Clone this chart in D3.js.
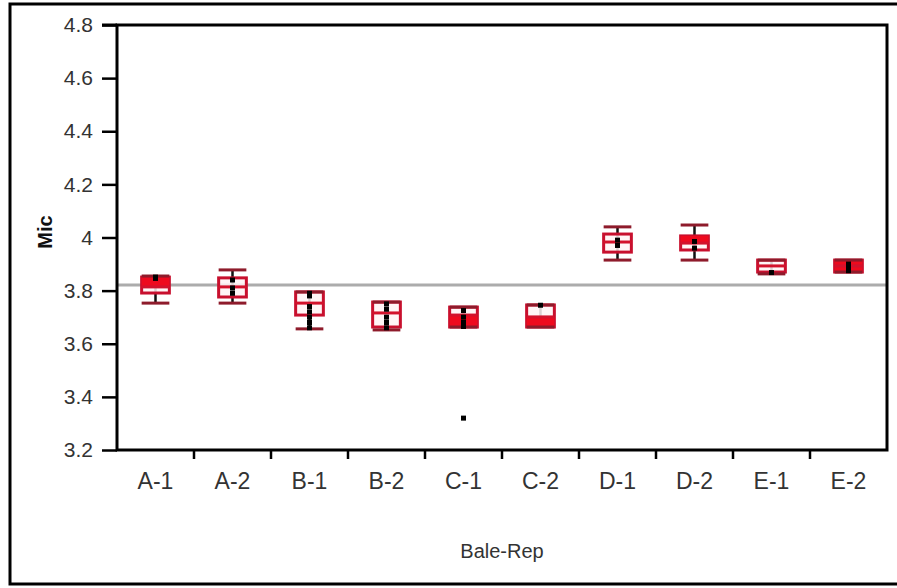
<!DOCTYPE html>
<html>
<head>
<meta charset="utf-8">
<script src="https://cdn.jsdelivr.net/npm/d3@7"></script>
<style>
  body { margin: 0; background: #fff; }
  svg { display: block; font-family: "Liberation Sans", Arial, sans-serif; }
  .tick-label { fill: #333; }
</style>
</head>
<body>
<svg id="chart"></svg>
<script>
// Mic by Bale-Rep, quantile box plots
const categories = ["A-1", "A-2", "B-1", "B-2", "C-1", "C-2", "D-1", "D-2", "E-1", "E-2"];
const whiskerLow  = [3.753, 3.753, 3.656, 3.652, 3.663, 3.663, 3.915, 3.915, 3.863, 3.870];
const quart1      = [3.791, 3.776, 3.708, 3.663, 3.663, 3.663, 3.945, 3.953, 3.870, 3.870];
const medians     = [3.814, 3.814, 3.753, 3.716, 3.708, 3.701, 3.983, 3.979, 3.893, 3.893];
const quart3      = [3.851, 3.848, 3.795, 3.757, 3.738, 3.746, 4.013, 4.006, 3.915, 3.915];
const whiskerHigh = [3.855, 3.878, 3.795, 3.757, 3.738, 3.746, 4.040, 4.047, 3.915, 3.915];
// part of the box shown solid red (null = none)
const solidLow  = [3.814, null, null, null, 3.663, 3.663, null, 3.979, null, 3.870];
const solidHigh = [3.851, null, null, null, 3.708, 3.701, null, 4.006, null, 3.915];
const points = [
  [3.851, 3.846],
  [3.84, 3.81, 3.79],
  [3.79, 3.78, 3.74, 3.72, 3.70, 3.68, 3.66],
  [3.75, 3.73, 3.70, 3.68, 3.66],
  [3.725, 3.70, 3.68, 3.665, 3.32],
  [3.745],
  [3.99, 3.97],
  [3.985, 3.96],
  [3.868],
  [3.90, 3.89, 3.88, 3.875]
];
const grandMean = 3.821;
const yTicks = [3.2, 3.4, 3.6, 3.8, 4, 4.2, 4.4, 4.6, 4.8];

const width = 897, height = 588;
const margin = {top: 25, right: 10, bottom: 138, left: 117};
const innerW = 887 - margin.left;
const innerH = height - margin.top - margin.bottom;

const svg = d3.select("#chart")
    .attr("width", width)
    .attr("height", height);

// outer frame (right edge runs off the picture)
svg.append("rect")
    .attr("x", 10).attr("y", 4)
    .attr("width", width + 20).attr("height", 580)
    .attr("fill", "none")
    .attr("stroke", "#000")
    .attr("stroke-width", 3);

const g = svg.append("g")
    .attr("transform", `translate(${margin.left},${margin.top})`);

const x = d3.scaleBand()
    .domain(categories)
    .range([0, innerW]);

const y = d3.scaleLinear()
    .domain([3.2, 4.8])
    .range([innerH, 0]);

// grand mean line
g.append("line")
    .attr("x1", 0).attr("x2", innerW)
    .attr("y1", y(grandMean)).attr("y2", y(grandMean))
    .attr("stroke", "#acacac")
    .attr("stroke-width", 3);

// y axis
const yAxis = d3.axisLeft(y)
    .tickValues(yTicks)
    .tickFormat(d3.format("~g"))
    .tickSize(15)
    .tickPadding(9);

const yAxisG = g.append("g").call(yAxis);
yAxisG.select(".domain").remove();
yAxisG.selectAll("line").attr("stroke", "#000").attr("stroke-width", 2.5);
yAxisG.selectAll("text")
    .attr("class", "tick-label")
    .style("font-size", "21px");

// x axis: ticks between categories
const xAxis = d3.axisBottom(x).tickSize(0).tickPadding(23);
const xAxisG = g.append("g")
    .attr("transform", `translate(0,${innerH})`)
    .call(xAxis);
xAxisG.select(".domain").remove();
xAxisG.selectAll("text")
    .attr("class", "tick-label")
    .style("font-size", "23px");

g.append("g")
    .selectAll("line")
    .data(categories.slice(1))
    .join("line")
    .attr("x1", d => x(d)).attr("x2", d => x(d))
    .attr("y1", innerH).attr("y2", innerH + 9)
    .attr("stroke", "#000")
    .attr("stroke-width", 2.5);

// boxes
const boxW = x.bandwidth() * 0.36;
const boxes = g.append("g")
    .selectAll("g")
    .data(categories)
    .join("g")
    .attr("transform", d => `translate(${x(d) + x.bandwidth() / 2},0)`);

boxes.append("line")
    .attr("y1", (d, i) => y(whiskerLow[i]))
    .attr("y2", (d, i) => y(whiskerHigh[i]))
    .attr("stroke", "#111")
    .attr("stroke-width", 2.5);

boxes.append("rect")
    .attr("x", -boxW / 2)
    .attr("y", (d, i) => y(quart3[i]))
    .attr("width", boxW)
    .attr("height", (d, i) => Math.max(1, y(quart1[i]) - y(quart3[i])))
    .attr("fill", "#fff3f4")
    .attr("fill-opacity", 0.85)
    .attr("stroke", "#c8102e")
    .attr("stroke-width", 3);

boxes.filter((d, i) => solidLow[i] !== null)
    .append("rect")
    .attr("x", -boxW / 2)
    .attr("y", d => y(solidHigh[categories.indexOf(d)]))
    .attr("width", boxW)
    .attr("height", d => {
      const i = categories.indexOf(d);
      return y(solidLow[i]) - y(solidHigh[i]);
    })
    .attr("fill", "#ee0a1e");

boxes.append("line")
    .attr("x1", -boxW / 2).attr("x2", boxW / 2)
    .attr("y1", (d, i) => y(medians[i]))
    .attr("y2", (d, i) => y(medians[i]))
    .attr("stroke", "#d3122c")
    .attr("stroke-width", 3);

[whiskerLow, whiskerHigh].forEach(arr => {
  boxes.append("line")
      .attr("x1", -boxW / 2).attr("x2", boxW / 2)
      .attr("y1", (d, i) => y(arr[i]))
      .attr("y2", (d, i) => y(arr[i]))
      .attr("stroke", "#8e1b2b")
      .attr("stroke-width", 3);
});

// raw points
boxes.selectAll("rect.pt")
    .data((d, i) => points[i])
    .join("rect")
    .attr("class", "pt")
    .attr("x", -2.5)
    .attr("y", v => y(v) - 2.5)
    .attr("width", 5)
    .attr("height", 5)
    .attr("fill", "#000");

// plot frame
g.append("rect")
    .attr("x", 0).attr("y", 0)
    .attr("width", innerW).attr("height", innerH)
    .attr("fill", "none")
    .attr("stroke", "#000")
    .attr("stroke-width", 3);

// top border extends left like in the original
g.append("line")
    .attr("x1", -15).attr("x2", 0)
    .attr("y1", 0).attr("y2", 0)
    .attr("stroke", "#000")
    .attr("stroke-width", 3);

// axis titles
svg.append("text")
    .attr("x", (margin.left + 887) / 2)
    .attr("y", 558)
    .attr("text-anchor", "middle")
    .attr("fill", "#333")
    .style("font-size", "20px")
    .text("Bale-Rep");

svg.append("text")
    .attr("transform", "rotate(-90)")
    .attr("x", -232)
    .attr("y", 52)
    .attr("text-anchor", "middle")
    .attr("fill", "#111")
    .style("font-size", "20px")
    .style("font-weight", "bold")
    .text("Mic");
</script>
</body>
</html>
